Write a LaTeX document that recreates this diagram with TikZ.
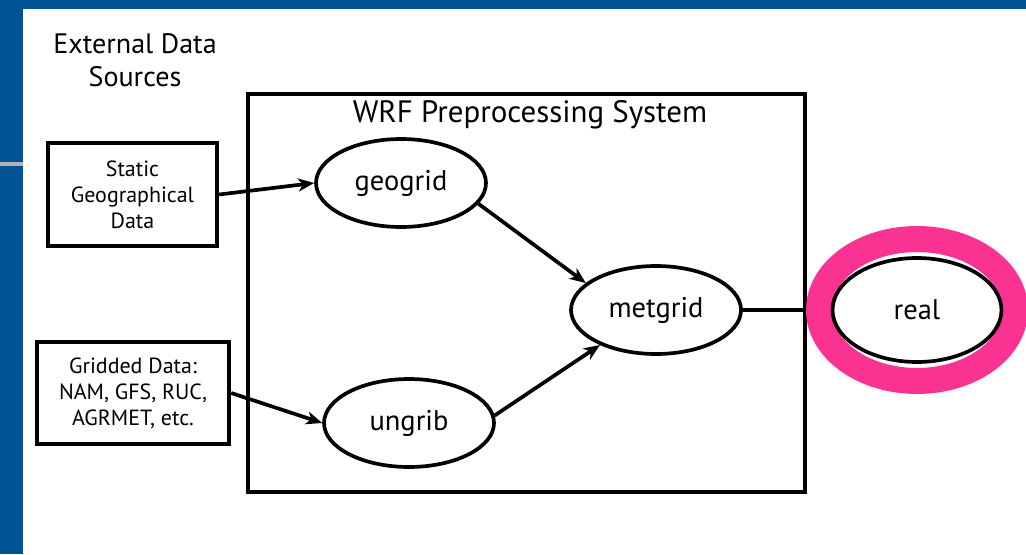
\documentclass[tikz,border=0pt]{standalone}
\usepackage{fontspec}
\setmainfont{PT Sans}
\usepackage{tikz}
\usetikzlibrary{shapes.geometric, arrows.meta, positioning}
\definecolor{slideblue}{RGB}{0,84,150}
\definecolor{ringpink}{RGB}{250,50,145}

\begin{document}
\begin{tikzpicture}[x=0.02cm, y=-0.02cm,
    srcbox/.style={draw, line width=2.5pt, align=center, inner sep=0pt, font=\fontsize{12.5}{14.7}\selectfont},
    prog/.style={draw, ellipse, line width=2.1pt, fill=white, inner sep=0pt, minimum width=3.4cm, minimum height=1.76cm, font=\fontsize{16.2}{19}\selectfont},
    flow/.style={line width=2.1pt, -{Stealth[length=3.2mm, width=2.6mm, inset=0.9mm]}}]
        \useasboundingbox (0,0) rectangle (1026,554);

        % Slide frame
        \fill[slideblue] (0,0) rectangle (1026,9);
        \fill[slideblue] (0,0) rectangle (23,554);
        \fill[black!30] (0,162) rectangle (23,166);

        \node[align=center, font=\fontsize{16}{19}\selectfont] (ext) at (135,60) {External Data\\Sources};

        % Sources
        \node[srcbox, minimum width=3.38cm, minimum height=2.06cm] (static) at (132.5,194.5) {Static\\Geographical\\Data};
        \node[srcbox, minimum width=3.84cm, minimum height=2.04cm] (gridded) at (133,393) {Gridded Data:\\NAM, GFS, RUC,\\AGRMET, etc.};

        % WPS box
        \node[draw, line width=2.5pt, minimum width=11.14cm, minimum height=7.96cm] (wps) at (526.5,293) {};
        \node[font=\fontsize{17.6}{20}\selectfont] (title) at (530,115) {WRF Preprocessing System};

        \draw[line width=2.1pt] (656,310) -- (917,310);

        \node[prog] (geogrid) at (401,183) {geogrid};
        \node[prog] (ungrib) at (409,423) {ungrib};
        \node[prog] (metgrid) at (656,310) {metgrid};

        % Highlight
        \node[draw=ringpink, ellipse, line width=0.52cm, minimum width=3.92cm, minimum height=2.84cm] (ring) at (917,310) {};
        \node[prog, minimum width=3.38cm, minimum height=2.08cm] (real) at (917,310) {real};

        \draw[flow] (static.east) -- (geogrid.west);
        \draw[flow] (gridded.east) -- (ungrib.west);
        \draw[flow] (geogrid.-15) -- (metgrid.159);
        \draw[flow] (ungrib.5) -- (metgrid.212);
    \end{tikzpicture}
\end{document}
